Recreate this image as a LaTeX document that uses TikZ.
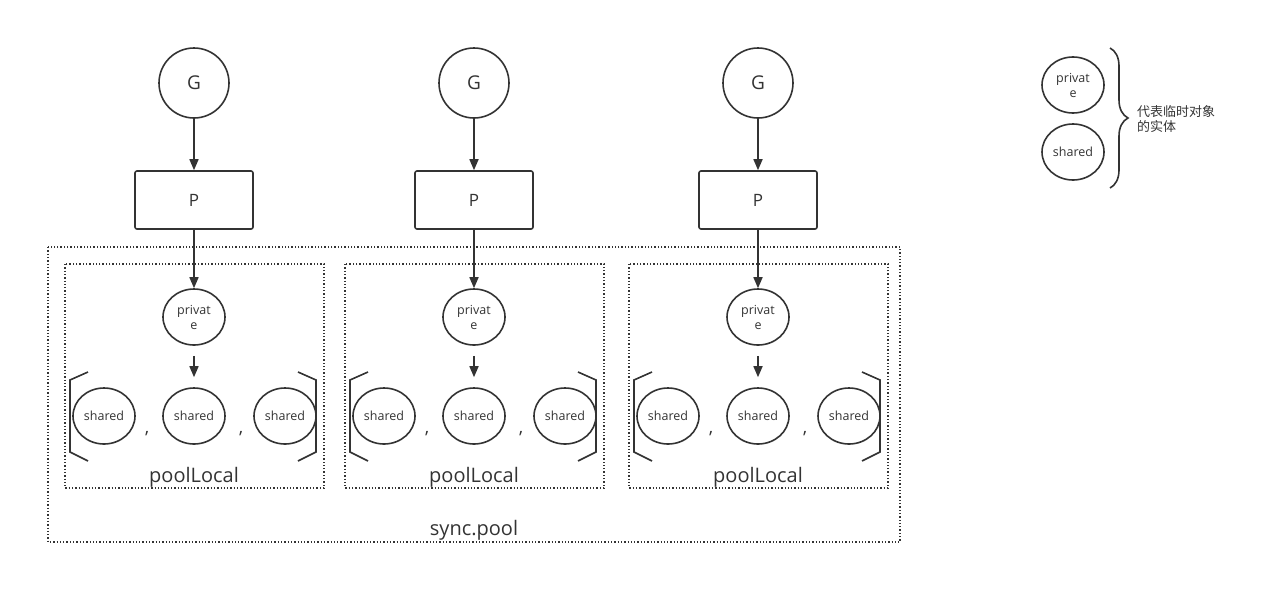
\documentclass[tikz,border=0pt]{standalone}
\usepackage{fontspec}
\setmainfont{Open Sans}
\newfontfamily\cjk{Noto Sans CJK SC}
\usetikzlibrary{shapes.geometric,arrows.meta,decorations.pathreplacing}
\definecolor{linecolor}{RGB}{51,51,51}

\begin{document}
\begin{tikzpicture}[x=1pt, y=-1pt, line width=1.6pt, color=linecolor,
        gnode/.style={circle, draw, minimum size=70pt, inner sep=0pt, font=\fontsize{19}{22}\selectfont},
        pbox/.style={rectangle, draw, rounded corners=2pt, minimum width=118pt, minimum height=58pt, font=\fontsize{17}{20}\selectfont},
        obj/.style={ellipse, draw, minimum width=62pt, minimum height=56pt, inner sep=0pt, align=center, font=\fontsize{12.5}{15}\selectfont},
        sep/.style={anchor=base, inner sep=0pt, font=\fontsize{18}{20}\selectfont},
        dotbox/.style={line width=1.3pt, dotted},
        arrow/.style={-{Triangle[length=11pt, width=9pt]}},
        biglabel/.style={font=\fontsize{20}{24}\selectfont}]
        \useasboundingbox (0, 0) rectangle (1279, 603);

        % Goroutines, processors and their poolLocal {{{
        \foreach \i/\dx in {1/0, 2/280, 3/564} {
                \node[gnode] (g\i) at (194+\dx, 83) {G};
                \node[pbox] (p\i) at (194+\dx, 200) {P};
                \node[obj] (priv\i) at (194+\dx, 317) {privat\\e};
                \node[obj] (sha\i) at (104+\dx, 416) {shared};
                \node[obj] (shb\i) at (194+\dx, 416) {shared};
                \node[obj] (shc\i) at (285+\dx, 416) {shared};
                \node[sep] (ca\i) at (147+\dx, 433) {,};
                \node[sep] (cb\i) at (241+\dx, 433) {,};

                \draw[arrow] (g\i) -- (p\i);
                \draw[arrow] (p\i) -- (priv\i);
                \draw[arrow, shorten <=10pt, shorten >=10pt] (priv\i) -- (shb\i);

                \draw (88+\dx, 372) -- (70+\dx, 380) -- (70+\dx, 452) -- (88+\dx, 461); % [
                \draw (298+\dx, 372) -- (316+\dx, 380) -- (316+\dx, 452) -- (298+\dx, 461); % ]

                \draw[dotbox] (65+\dx, 264) rectangle (324+\dx, 488);
                \node[biglabel] (local\i) at (194+\dx, 477) {poolLocal};
        }
        % }}}

        \draw[dotbox] (48, 247) rectangle (900, 542);
        \node[biglabel] (pool) at (474, 530) {sync.pool};

        % Legend {{{
        \node[obj] (legpriv) at (1073, 85) {privat\\e};
        \node[obj] (legshared) at (1073, 152) {shared};
        \draw[decorate, decoration={brace, amplitude=18pt}] (1110, 48) -- (1110, 188);
        \node[anchor=west, align=left, font=\cjk\fontsize{13}{15}\selectfont] (legtext) at (1133, 119) {代表临时对象\\的实体};
        % }}}
\end{tikzpicture}
\end{document}
